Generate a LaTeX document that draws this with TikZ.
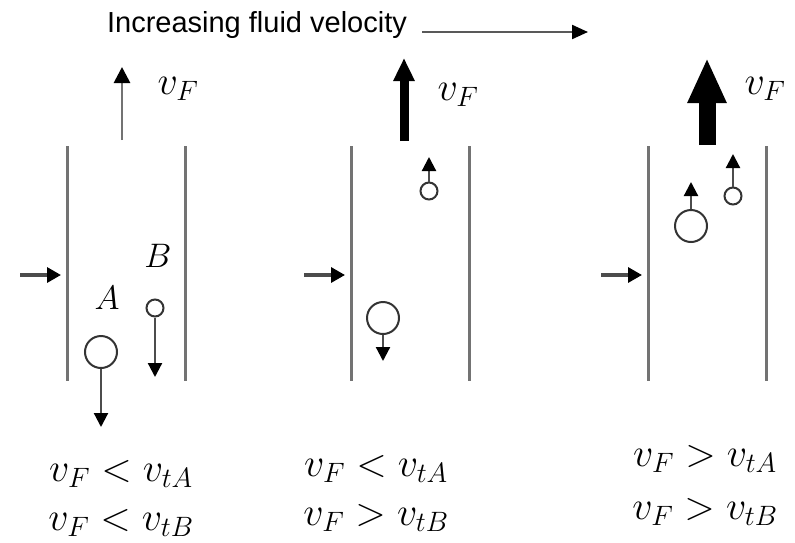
\RequirePackage{fix-cm}
\documentclass[tikz,border=0pt]{standalone}
\usepackage{fontspec}
\newfontfamily\titlefont{Liberation Sans}
\usetikzlibrary{arrows.meta}

\begin{document}
\begin{tikzpicture}[x=1pt, y=-1pt,
    wall/.style={line width=3pt, color=black!55},
    inlet/.style={line width=3.2pt, color=black!70, -{Triangle[length=14pt,width=15pt,color=black]}},
    part/.style={circle, draw=black!80, fill=white, line width=2pt, inner sep=0pt},
    bigpart/.style={part, minimum size=32pt},
    smallpart/.style={part, minimum size=17pt},
    vel/.style={line width=2.2pt, color=black!70, -{Triangle[length=14pt,width=14pt,color=black]}},
    every node/.style={font=\fontsize{40}{42}\selectfont}
]
    \useasboundingbox (0,0) rectangle (795,542);

    % Title
    \node[font=\titlefont\fontsize{29}{32}\selectfont] (title) at (257,25) {Increasing fluid velocity};
    \coordinate (ts) at (422,32);
    \coordinate (te) at (588,32);
    \draw[line width=2.2pt, color=black!65, -{Triangle[length=16pt,width=14pt,color=black]}] (ts) -- (te);

    % Columns and inlet arrows
    \foreach \n/\x in {1/67, 2/351, 3/648}{
        \coordinate (L\n t) at (\x,146);
        \coordinate (L\n b) at (\x,381);
        \coordinate (R\n t) at (\x+118,146);
        \coordinate (R\n b) at (\x+118,381);
        \coordinate (I\n) at (\x-47,275);
        \coordinate (I\n e) at (\x-6,275);
        \draw[wall] (L\n t) -- (L\n b);
        \draw[wall] (R\n t) -- (R\n b);
        \draw[inlet] (I\n) -- (I\n e);
    }

    % Fluid velocity arrows
    \coordinate (F1) at (122,140);
    \coordinate (F1t) at (122,67);
    \draw[line width=2.8pt, color=black!55, -{Triangle[length=16pt,width=16pt,color=black]}] (F1) -- (F1t);
    \coordinate (F2) at (404,141);
    \coordinate (F2t) at (404,58);
    \draw[line width=9pt, -{Triangle[length=23pt,width=20pt]}] (F2) -- (F2t);
    \coordinate (F3) at (707,145);
    \coordinate (F3t) at (707,58);
    \draw[line width=17pt, -{Triangle[length=45pt,width=36pt]}] (F3) -- (F3t);

    \node (vF1) at (178,89) {$v_F$};
    \node (vF2) at (458,95) {$v_F$};
    \node (vF3) at (765,89) {$v_F$};

    % Panel 1: both particles fall
    \node[font=\fontsize{34}{36}\selectfont] (labA) at (107,298) {$A$};
    \node[font=\fontsize{34}{36}\selectfont] (labB) at (158,256) {$B$};
    \node[bigpart] (A1) at (101,352) {};
    \node[smallpart] (B1) at (155,308) {};
    \coordinate (A1e) at (101,427);
    \coordinate (B1e) at (155,377);
    \draw[vel] (A1.south) -- (A1e);
    \draw[vel] (B1.south) -- (B1e);

    % Panel 2: A falls, B rises
    \node[bigpart] (A2) at (383,318) {};
    \node[smallpart] (B2) at (429,191) {};
    \coordinate (A2e) at (383,361);
    \coordinate (B2e) at (429,157);
    \draw[vel] (A2.south) -- (A2e);
    \draw[vel] (B2.north) -- (B2e);

    % Panel 3: both rise
    \node[bigpart] (A3) at (691,226) {};
    \node[smallpart] (B3) at (733,196) {};
    \coordinate (A3e) at (691,182);
    \coordinate (B3e) at (733,154);
    \draw[vel] (A3.north) -- (A3e);
    \draw[vel] (B3.north) -- (B3e);

    % Conditions
    \node (c1a) at (121,474) {$v_F < v_{tA}$};
    \node (c1b) at (121,523) {$v_F < v_{tB}$};
    \node (c2a) at (376,469) {$v_F < v_{tA}$};
    \node (c2b) at (376,518) {$v_F > v_{tB}$};
    \node (c3a) at (705,459) {$v_F > v_{tA}$};
    \node (c3b) at (705,512) {$v_F > v_{tB}$};
\end{tikzpicture}
\end{document}
